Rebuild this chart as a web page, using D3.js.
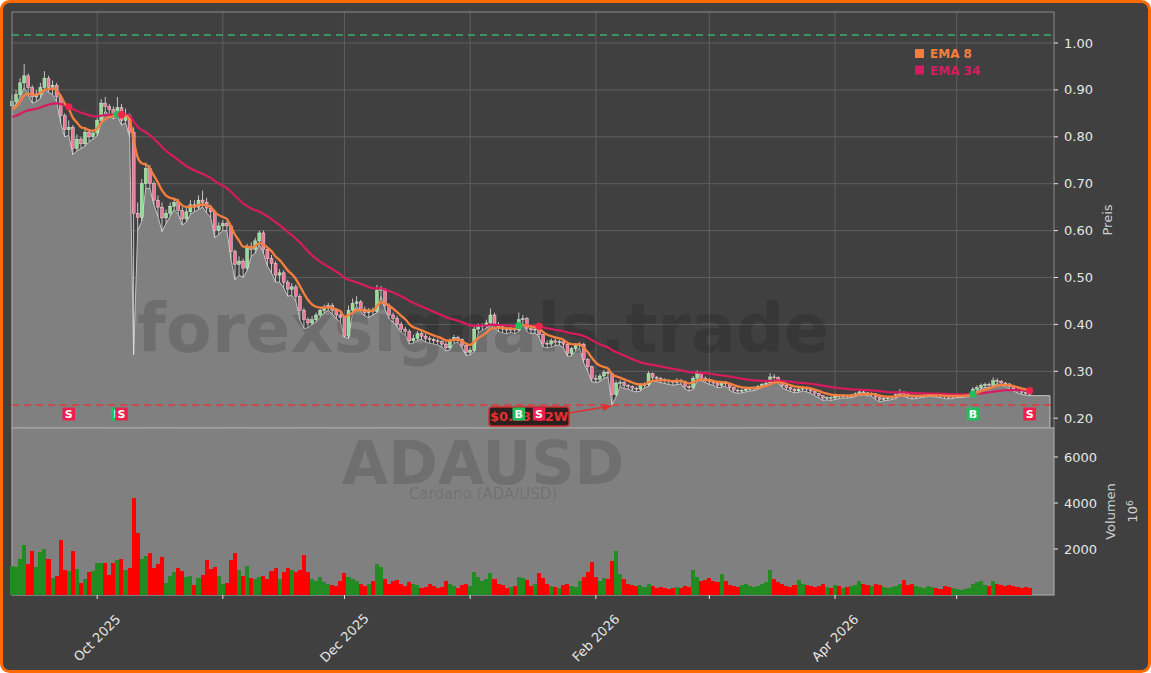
<!DOCTYPE html>
<html>
<head>
<meta charset="utf-8">
<script src="https://cdn.jsdelivr.net/npm/d3@7"></script>
<style>
  body { margin: 0; background: #fff; }
  svg { display: block; font-family: "DejaVu Sans", sans-serif; }
</style>
</head>
<body>
<svg id="chart" width="1151" height="673"></svg>
<script>
// daily ADA/USD candles, first bar 2025-09-10
const startDay = new Date(2025, 8, 10);
const firstOpen = 0.866;

const closes = [
  0.875, 0.890, 0.915, 0.930, 0.905, 0.885, 0.890, 0.905, 0.925, 0.905,
  0.910, 0.885, 0.845, 0.815, 0.820, 0.775, 0.795, 0.785, 0.810, 0.800,
  0.808, 0.835, 0.872, 0.865, 0.858, 0.850, 0.862, 0.835, 0.845, 0.810,
  0.637, 0.628, 0.700, 0.733, 0.700, 0.665, 0.650, 0.627, 0.637, 0.652,
  0.660, 0.643, 0.625, 0.640, 0.655, 0.650, 0.665, 0.660, 0.648, 0.640,
  0.600, 0.610, 0.615, 0.610, 0.555, 0.528, 0.535, 0.520, 0.565, 0.560,
  0.578, 0.595, 0.560, 0.540, 0.530, 0.505, 0.510, 0.490, 0.475, 0.480,
  0.460, 0.430, 0.410, 0.403, 0.410, 0.420, 0.430, 0.435, 0.440, 0.430,
  0.420, 0.415, 0.375, 0.430, 0.445, 0.448, 0.432, 0.425, 0.430, 0.428,
  0.473, 0.475, 0.440, 0.420, 0.413, 0.400, 0.390, 0.385, 0.365, 0.370,
  0.380, 0.375, 0.370, 0.368, 0.365, 0.363, 0.358, 0.350, 0.365, 0.372,
  0.368, 0.355, 0.340, 0.345, 0.390, 0.395, 0.397, 0.403, 0.420, 0.400,
  0.395, 0.390, 0.388, 0.390, 0.388, 0.410, 0.412, 0.392, 0.388, 0.390,
  0.378, 0.360, 0.358, 0.365, 0.362, 0.363, 0.358, 0.338, 0.348, 0.355,
  0.358, 0.325, 0.310, 0.285, 0.283, 0.290, 0.298, 0.295, 0.250, 0.275,
  0.276, 0.270, 0.268, 0.264, 0.262, 0.270, 0.272, 0.295, 0.287, 0.285,
  0.282, 0.280, 0.278, 0.276, 0.281, 0.278, 0.268, 0.265, 0.285, 0.295,
  0.285, 0.283, 0.278, 0.275, 0.270, 0.275, 0.274, 0.265, 0.260, 0.258,
  0.259, 0.262, 0.263, 0.264, 0.268, 0.272, 0.275, 0.288, 0.287, 0.280,
  0.270, 0.265, 0.262, 0.258, 0.262, 0.264, 0.262, 0.258, 0.253, 0.248,
  0.243, 0.244, 0.243, 0.247, 0.246, 0.248, 0.247, 0.249, 0.252, 0.256,
  0.254, 0.252, 0.252, 0.245, 0.240, 0.242, 0.243, 0.245, 0.250, 0.254,
  0.252, 0.247, 0.245, 0.247, 0.248, 0.249, 0.250, 0.250, 0.249, 0.248,
  0.246, 0.245, 0.247, 0.248, 0.248, 0.249, 0.250, 0.262, 0.265, 0.270,
  0.272, 0.270, 0.280, 0.279, 0.275, 0.273, 0.267, 0.262, 0.258, 0.255,
  0.253, 0.252
];

const highs = [
  0.890, 0.900, 0.925, 0.955, 0.935, 0.910, 0.900, 0.915, 0.940, 0.930,
  0.920, 0.915, 0.890, 0.850, 0.835, 0.825, 0.805, 0.800, 0.820, 0.815,
  0.815, 0.840, 0.880, 0.885, 0.870, 0.865, 0.885, 0.870, 0.860, 0.850,
  0.820, 0.660, 0.710, 0.745, 0.740, 0.705, 0.675, 0.660, 0.645, 0.660,
  0.670, 0.668, 0.650, 0.648, 0.665, 0.665, 0.675, 0.685, 0.670, 0.655,
  0.645, 0.618, 0.622, 0.620, 0.612, 0.560, 0.545, 0.540, 0.572, 0.575,
  0.585, 0.600, 0.600, 0.565, 0.548, 0.535, 0.518, 0.515, 0.495, 0.488,
  0.485, 0.465, 0.435, 0.415, 0.418, 0.425, 0.436, 0.442, 0.446, 0.445,
  0.435, 0.425, 0.418, 0.440, 0.455, 0.460, 0.452, 0.438, 0.435, 0.436,
  0.484, 0.482, 0.478, 0.445, 0.425, 0.418, 0.405, 0.395, 0.390, 0.378,
  0.386, 0.385, 0.380, 0.375, 0.372, 0.370, 0.366, 0.362, 0.370, 0.378,
  0.376, 0.370, 0.358, 0.350, 0.398, 0.402, 0.402, 0.410, 0.434, 0.425,
  0.405, 0.398, 0.394, 0.395, 0.393, 0.425, 0.420, 0.416, 0.396, 0.395,
  0.393, 0.380, 0.366, 0.370, 0.370, 0.368, 0.366, 0.360, 0.352, 0.360,
  0.362, 0.360, 0.328, 0.312, 0.292, 0.295, 0.303, 0.302, 0.297, 0.280,
  0.282, 0.279, 0.273, 0.270, 0.267, 0.274, 0.276, 0.300, 0.297, 0.290,
  0.288, 0.285, 0.283, 0.281, 0.285, 0.284, 0.280, 0.270, 0.290, 0.302,
  0.297, 0.289, 0.285, 0.280, 0.277, 0.279, 0.279, 0.276, 0.267, 0.263,
  0.263, 0.266, 0.267, 0.268, 0.271, 0.275, 0.279, 0.296, 0.294, 0.289,
  0.282, 0.272, 0.268, 0.264, 0.265, 0.268, 0.267, 0.264, 0.259, 0.254,
  0.249, 0.247, 0.247, 0.250, 0.250, 0.251, 0.250, 0.252, 0.255, 0.260,
  0.259, 0.256, 0.255, 0.253, 0.247, 0.245, 0.246, 0.248, 0.253, 0.262,
  0.258, 0.254, 0.249, 0.250, 0.251, 0.252, 0.253, 0.253, 0.252, 0.251,
  0.250, 0.248, 0.249, 0.250, 0.251, 0.251, 0.252, 0.266, 0.270, 0.274,
  0.276, 0.276, 0.287, 0.285, 0.281, 0.277, 0.275, 0.269, 0.263, 0.259,
  0.257, 0.255
];

const lows = [
  0.862, 0.870, 0.885, 0.905, 0.890, 0.872, 0.875, 0.882, 0.900, 0.895,
  0.890, 0.875, 0.830, 0.800, 0.803, 0.762, 0.770, 0.775, 0.780, 0.790,
  0.795, 0.802, 0.830, 0.855, 0.845, 0.838, 0.845, 0.825, 0.830, 0.800,
  0.335, 0.600, 0.620, 0.690, 0.690, 0.655, 0.630, 0.598, 0.615, 0.630,
  0.645, 0.635, 0.612, 0.618, 0.635, 0.640, 0.645, 0.650, 0.638, 0.628,
  0.585, 0.592, 0.600, 0.600, 0.540, 0.495, 0.505, 0.500, 0.515, 0.545,
  0.552, 0.570, 0.552, 0.525, 0.510, 0.490, 0.490, 0.478, 0.460, 0.462,
  0.450, 0.410, 0.391, 0.393, 0.400, 0.405, 0.415, 0.425, 0.430, 0.422,
  0.412, 0.405, 0.373, 0.370, 0.425, 0.438, 0.428, 0.418, 0.415, 0.420,
  0.425, 0.460, 0.432, 0.412, 0.405, 0.395, 0.383, 0.378, 0.358, 0.360,
  0.366, 0.368, 0.362, 0.360, 0.358, 0.356, 0.352, 0.343, 0.346, 0.360,
  0.362, 0.350, 0.334, 0.335, 0.342, 0.382, 0.388, 0.392, 0.398, 0.392,
  0.385, 0.382, 0.380, 0.383, 0.380, 0.385, 0.400, 0.385, 0.380, 0.382,
  0.372, 0.352, 0.350, 0.352, 0.355, 0.356, 0.350, 0.332, 0.333, 0.343,
  0.350, 0.318, 0.300, 0.278, 0.276, 0.278, 0.285, 0.288, 0.228, 0.246,
  0.268, 0.263, 0.262, 0.258, 0.256, 0.258, 0.265, 0.268, 0.280, 0.278,
  0.276, 0.274, 0.272, 0.270, 0.272, 0.273, 0.262, 0.258, 0.262, 0.280,
  0.280, 0.276, 0.272, 0.270, 0.265, 0.266, 0.268, 0.260, 0.255, 0.253,
  0.254, 0.256, 0.258, 0.259, 0.262, 0.266, 0.270, 0.272, 0.280, 0.275,
  0.265, 0.260, 0.257, 0.254, 0.255, 0.258, 0.256, 0.253, 0.248, 0.243,
  0.238, 0.239, 0.238, 0.240, 0.242, 0.243, 0.243, 0.244, 0.246, 0.249,
  0.250, 0.248, 0.247, 0.240, 0.235, 0.237, 0.238, 0.240, 0.242, 0.248,
  0.247, 0.243, 0.241, 0.242, 0.244, 0.245, 0.246, 0.246, 0.245, 0.244,
  0.242, 0.241, 0.242, 0.244, 0.244, 0.245, 0.246, 0.248, 0.259, 0.262,
  0.266, 0.265, 0.268, 0.274, 0.270, 0.268, 0.263, 0.258, 0.254, 0.251,
  0.249, 0.248
];

// volume in millions
const volumes = [
  1250, 1230, 1570, 2175, 1350, 1910, 1230, 1870, 2000, 1570,
  740, 830, 2390, 1090, 1060, 1910, 1130, 540, 700, 1000,
  1060, 1380, 1400, 1390, 870, 1390, 1520, 1570, 1090, 1170,
  4220, 2680, 1550, 1700, 1840, 1190, 1350, 1650, 510, 830,
  990, 1160, 1060, 800, 830, 435, 725, 870, 1520, 1130,
  1200, 830, 480, 540, 1520, 1830, 1090, 830, 1260, 725,
  700, 780, 830, 710, 1060, 1160, 700, 990, 1160, 1090,
  1000, 1100, 1750, 1000, 700, 600, 800, 550, 500, 450,
  400, 600, 950, 800, 700, 600, 500, 400, 500, 600,
  1350, 1200, 700, 500, 600, 650, 500, 400, 550, 500,
  450, 300, 350, 500, 400, 300, 350, 600, 500, 400,
  300, 450, 500, 400, 1000, 800, 600, 700, 950, 700,
  500, 450, 300, 350, 400, 800, 750, 650, 400, 500,
  950, 750, 500, 400, 350, 300, 450, 500, 400, 350,
  600, 800, 1000, 1450, 800, 600, 750, 700, 1500, 1900,
  900, 700, 500, 450, 400, 450, 350, 500, 400, 300,
  350, 300, 250, 300, 350, 300, 400, 350, 1100, 800,
  600, 650, 750, 600, 550, 900, 600, 450, 400, 350,
  450, 500, 400, 350, 400, 500, 550, 1100, 700, 550,
  500, 400, 350, 450, 650, 500, 450, 400, 350, 400,
  500, 350, 300, 450, 400, 300, 350, 400, 450, 600,
  500, 450, 400, 500, 450, 350, 300, 350, 400, 500,
  650, 450, 500, 400, 350, 300, 400, 350, 300, 250,
  400, 350, 300, 250, 200, 250, 300, 500, 550, 600,
  450, 400, 600, 500, 450, 400, 450, 400, 350, 300,
  350, 300
];

const ema8Start = 0.857;
const ema34Start = 0.842;
const high52 = 1.017;
const buyBars = [26, 125, 237];
const sellBars = [14, 27, 130, 251];

const priceTicks = [0.2, 0.3, 0.4, 0.5, 0.6, 0.7, 0.8, 0.9, 1.0];
const volumeTicks = [2000, 4000, 6000];
const labelledMonths = ["Oct 2025", "Dec 2025", "Feb 2026", "Apr 2026"];

const W = 1151, H = 673;
const left = 12, right = 1054;
const priceTop = 12, priceBottom = 428, volBottom = 595;
const bg = "#404040", panelGray = "#808080";
const upFill = "#8ee08e", downFill = "#f07896";
const ema8Color = "#f77f3e", ema34Color = "#d81b60";

const dates = closes.map((_, i) => d3.timeDay.offset(startDay, i));
const opens = closes.map((c, i) => i ? closes[i - 1] : firstOpen);

function ema(values, n, start) {
  const a = 2 / (n + 1);
  const out = [start];
  for (let i = 1; i < values.length; i++) out.push(a * values[i] + (1 - a) * out[i - 1]);
  return out;
}
const ema8 = ema(closes, 8, ema8Start);
const ema34 = ema(closes, 34, ema34Start);

const x = d3.scaleTime()
  .domain([startDay, d3.timeDay.offset(startDay, closes.length + 5)])
  .range([left, right]);
const yP = d3.scaleLinear().domain([0.1791, 1.0661]).range([priceBottom, priceTop]);
const yV = d3.scaleLinear().domain([0, 7261]).range([volBottom, priceBottom]);

const svg = d3.select("#chart");

svg.append("rect")
  .attr("x", 1.5).attr("y", 1.5).attr("width", W - 3).attr("height", H - 3)
  .attr("rx", 8).attr("fill", bg).attr("stroke", "#ff6a00").attr("stroke-width", 3);

// ---- price panel ----
const months = d3.timeMonth.range(d3.timeMonth.ceil(startDay), x.domain()[1]);

const grid = svg.append("g").attr("stroke", "#5e5e5e").attr("stroke-width", 1);
priceTicks.forEach(t => grid.append("line")
  .attr("x1", left).attr("x2", right).attr("y1", yP(t)).attr("y2", yP(t)));
months.forEach(m => grid.append("line")
  .attr("x1", x(m)).attr("x2", x(m)).attr("y1", priceTop).attr("y2", priceBottom));

// area under the lows, carried a few days past the last bar
const areaPts = lows.map((l, i) => [dates[i], l]);
areaPts.push([d3.timeDay.offset(dates[dates.length - 1], 5), lows[lows.length - 1]]);
svg.append("path")
  .datum(areaPts)
  .attr("fill", panelGray)
  .attr("stroke", "#c4c4c4")
  .attr("stroke-width", 1)
  .attr("d", d3.area().x(d => x(d[0])).y0(priceBottom).y1(d => yP(d[1])));

svg.append("text")
  .attr("x", 483).attr("y", 352)
  .attr("text-anchor", "middle")
  .attr("font-size", 67).attr("font-weight", "bold")
  .attr("fill", "rgba(0,0,0,0.14)")
  .text("forexsignals.trade");

// 52w high / low reference lines
const low52 = d3.min(lows);
svg.append("line")
  .attr("x1", left).attr("x2", right).attr("y1", yP(high52)).attr("y2", yP(high52))
  .attr("stroke", "#3caa6a").attr("stroke-width", 1.5).attr("stroke-dasharray", "7,5");
svg.append("line")
  .attr("x1", left).attr("x2", right).attr("y1", yP(low52)).attr("y2", yP(low52))
  .attr("stroke", "#e03a3a").attr("stroke-width", 1.5).attr("stroke-dasharray", "7,5");

// candles
const candles = svg.append("g");
candles.selectAll("line")
  .data(closes)
  .join("line")
  .attr("x1", (d, i) => x(dates[i])).attr("x2", (d, i) => x(dates[i]))
  .attr("y1", (d, i) => yP(highs[i])).attr("y2", (d, i) => yP(lows[i]))
  .attr("stroke", "#e6e6e6").attr("stroke-width", 0.8);
candles.selectAll("rect")
  .data(closes)
  .join("rect")
  .attr("x", (d, i) => x(dates[i]) - 1.5)
  .attr("width", 3)
  .attr("y", (d, i) => yP(Math.max(d, opens[i])))
  .attr("height", (d, i) => Math.max(0.8, Math.abs(yP(d) - yP(opens[i]))))
  .attr("fill", (d, i) => d >= opens[i] ? upFill : downFill)
  .attr("stroke", "#f2f2f2").attr("stroke-width", 0.4);

const line = d3.line().x((d, i) => x(dates[i])).y(d => yP(d)).curve(d3.curveMonotoneX);
svg.append("path").datum(ema34).attr("d", line)
  .attr("fill", "none").attr("stroke", ema34Color).attr("stroke-width", 2.2);
svg.append("path").datum(ema8).attr("d", line)
  .attr("fill", "none").attr("stroke", ema8Color).attr("stroke-width", 2.3);

// crossover dots
buyBars.forEach(i => svg.append("circle")
  .attr("cx", x(dates[i])).attr("cy", yP(ema34[i])).attr("r", 3.6).attr("fill", "#1fbf5f"));
sellBars.forEach(i => svg.append("circle")
  .attr("cx", x(dates[i])).attr("cy", yP(ema34[i])).attr("r", 3.6).attr("fill", "#f0244c"));

// 52w low callout
const lowIdx = lows.indexOf(low52);
const lx = x(dates[lowIdx]), ly = yP(low52);
svg.append("defs").append("marker")
  .attr("id", "arrow")
  .attr("viewBox", "0 -5 10 10")
  .attr("refX", 9).attr("refY", 0)
  .attr("markerWidth", 6).attr("markerHeight", 6)
  .attr("orient", "auto")
  .append("path").attr("d", "M0,-4L10,0L0,4").attr("fill", "#e03030");
svg.append("line")
  .attr("x1", lx - 43).attr("y1", ly + 8).attr("x2", lx - 1).attr("y2", ly + 1)
  .attr("stroke", "#e03030").attr("stroke-width", 1.6).attr("marker-end", "url(#arrow)");
svg.append("rect")
  .attr("x", lx - 123).attr("y", ly + 2).attr("width", 80).attr("height", 19).attr("rx", 3)
  .attr("fill", "#2c1f1f").attr("stroke", "#d02c2c").attr("stroke-width", 1.5);
svg.append("text")
  .attr("x", lx - 83).attr("y", ly + 16)
  .attr("text-anchor", "middle")
  .attr("font-size", 13).attr("font-weight", "bold")
  .attr("fill", "#e53030")
  .text(`$${d3.format(".2f")(low52)} 52W`);

// B / S tags along the bottom of the price panel
function tag(i, label, color) {
  const cx = x(dates[i]), cy = priceBottom - 14;
  svg.append("rect").attr("x", cx - 6.3).attr("y", cy - 6.5).attr("width", 12.6).attr("height", 13)
    .attr("fill", color);
  svg.append("text").attr("x", cx).attr("y", cy + 4.2)
    .attr("text-anchor", "middle").attr("font-size", 11).attr("font-weight", "bold")
    .attr("fill", "#fff").text(label);
}
buyBars.forEach(i => tag(i, "B", "#1fbf5f"));
sellBars.forEach(i => tag(i, "S", "#ee1f4d"));

// legend
[["EMA 8", ema8Color], ["EMA 34", ema34Color]].forEach(([name, c], k) => {
  svg.append("rect").attr("x", 915).attr("y", 49 + k * 16.5).attr("width", 9).attr("height", 9).attr("fill", c);
  svg.append("text").attr("x", 930).attr("y", 58 + k * 16.5)
    .attr("font-size", 12).attr("font-weight", "bold").attr("fill", c).text(name);
});

svg.append("rect")
  .attr("x", left).attr("y", priceTop).attr("width", right - left).attr("height", priceBottom - priceTop)
  .attr("fill", "none").attr("stroke", "#8a8a8a").attr("stroke-width", 1);

// ---- volume panel ----
svg.append("rect")
  .attr("x", left).attr("y", priceBottom).attr("width", right - left).attr("height", volBottom - priceBottom)
  .attr("fill", panelGray).attr("stroke", "#a6a6a6").attr("stroke-width", 1.2);

svg.append("text")
  .attr("x", 483).attr("y", 484)
  .attr("text-anchor", "middle")
  .attr("font-size", 60).attr("font-weight", "bold")
  .attr("fill", "rgba(0,0,0,0.13)")
  .text("ADAUSD");
svg.append("text")
  .attr("x", 483).attr("y", 499)
  .attr("text-anchor", "middle")
  .attr("font-size", 15)
  .attr("fill", "rgba(0,0,0,0.13)")
  .text("Cardano (ADA/USD)");

const barW = (x(dates[1]) - x(dates[0]));
svg.append("g")
  .selectAll("rect")
  .data(volumes)
  .join("rect")
  .attr("x", (d, i) => x(dates[i]) - barW / 2)
  .attr("width", barW)
  .attr("y", d => yV(d))
  .attr("height", d => yV(0) - yV(d))
  .attr("fill", (d, i) => closes[i] >= opens[i] ? "#228b22" : "#ff0000")
  .attr("shape-rendering", "crispEdges");

// ---- axes ----
const axisColor = "#e6e6e6";
const yAxisP = svg.append("g");
priceTicks.forEach(t => {
  yAxisP.append("line").attr("x1", right).attr("x2", right + 4).attr("y1", yP(t)).attr("y2", yP(t))
    .attr("stroke", axisColor);
  yAxisP.append("text").attr("x", right + 10).attr("y", yP(t)).attr("dy", "0.35em")
    .attr("font-size", 13).attr("fill", axisColor).text(d3.format(".2f")(t));
});
volumeTicks.forEach(t => {
  yAxisP.append("line").attr("x1", right).attr("x2", right + 4).attr("y1", yV(t)).attr("y2", yV(t))
    .attr("stroke", axisColor);
  yAxisP.append("text").attr("x", right + 10).attr("y", yV(t)).attr("dy", "0.35em")
    .attr("font-size", 13).attr("fill", axisColor).text(t);
});

svg.append("text")
  .attr("transform", `translate(1112,${(priceTop + priceBottom) / 2}) rotate(-90)`)
  .attr("text-anchor", "middle").attr("font-size", 13).attr("fill", "#cfcfcf").text("Preis");
const vl = svg.append("text")
  .attr("transform", `translate(1115,${(priceBottom + volBottom) / 2}) rotate(-90)`)
  .attr("text-anchor", "middle").attr("font-size", 13).attr("fill", "#cfcfcf");
vl.append("tspan").attr("x", 0).attr("dy", 0).text("Volumen");
const vl2 = vl.append("tspan").attr("x", 0).attr("dy", 22);
vl2.append("tspan").text("10");
vl2.append("tspan").attr("dy", "-0.45em").attr("font-size", 9).text("6");

const fmtMonth = d3.timeFormat("%b %Y");
months.forEach(m => {
  const mx = x(m);
  svg.append("line").attr("x1", mx).attr("x2", mx).attr("y1", volBottom).attr("y2", volBottom + 4)
    .attr("stroke", axisColor);
  const lab = fmtMonth(m);
  if (labelledMonths.includes(lab)) {
    svg.append("text")
      .attr("transform", `translate(${mx},638) rotate(-45)`)
      .attr("text-anchor", "middle").attr("dominant-baseline", "central")
      .attr("font-size", 13).attr("fill", axisColor).text(lab);
  }
});
</script>
</body>
</html>
